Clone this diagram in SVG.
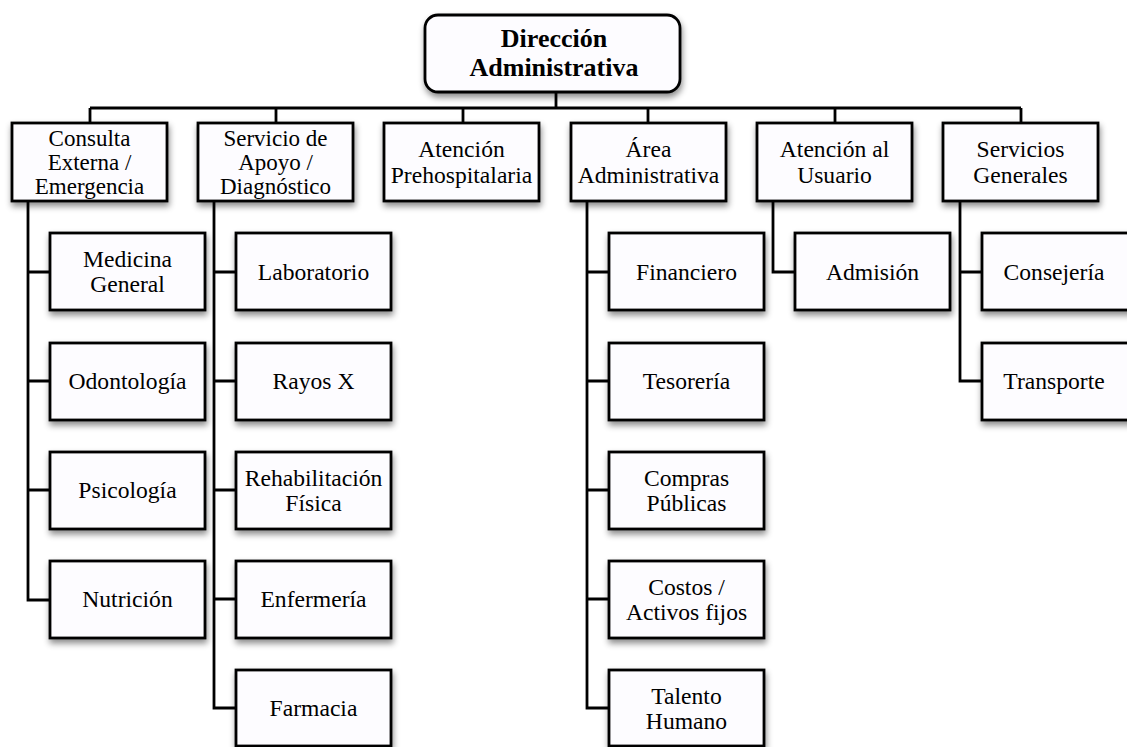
<svg xmlns="http://www.w3.org/2000/svg" width="1127" height="747" viewBox="0 0 1127 747">
<style>
.box{fill:#fdfcff;stroke:#000;stroke-width:2.8;filter:url(#sh)}
.t{font-family:"Liberation Serif","Times New Roman",serif;font-size:23.6px;fill:#000;text-anchor:middle}
.t3{font-family:"Liberation Serif","Times New Roman",serif;font-size:23px;fill:#000;text-anchor:middle}
.tb{font-family:"Liberation Serif","Times New Roman",serif;font-size:26px;font-weight:bold;fill:#000;text-anchor:middle}
.c{fill:none;stroke:#000;stroke-width:2.8}
</style>
<defs>
<filter id="sh" x="-20%" y="-20%" width="150%" height="160%">
<feDropShadow dx="1" dy="4" stdDeviation="3" flood-color="#000" flood-opacity="0.45"/>
</filter>
</defs>
<rect width="1127" height="747" fill="#fff"/>
<g id="connectors">
<path class="c" d="M556 92V108M90 108H1021M90 108V123M276 108V123M463 108V123M648 108V123M835 108V123M1021 108V123"/>
<path class="c" d="M28 201V600H50M28 272H50M28 381H50M28 490H50"/>
<path class="c" d="M214 201V708H236M214 272H236M214 381H236M214 490H236M214 599H236"/>
<path class="c" d="M587 201V708H609M587 272H609M587 381H609M587 490H609M587 599H609"/>
<path class="c" d="M773 201V272H795"/>
<path class="c" d="M960 201V381H982M960 272H982"/>
</g>
<g id="n_direccion"><rect class="box" x="425" y="15" width="255" height="77" rx="13"/><text class="tb" x="554" y="47">Dirección</text><text class="tb" x="554" y="76">Administrativa</text></g>
<g id="n_consulta"><rect class="box" x="12" y="123" width="155" height="78"/><text class="t3" x="89.5" y="146">Consulta</text><text class="t3" x="89.5" y="170">Externa /</text><text class="t3" x="89.5" y="194">Emergencia</text></g>
<g id="n_servicio"><rect class="box" x="198" y="123" width="155" height="78"/><text class="t3" x="275.5" y="146">Servicio de</text><text class="t3" x="275.5" y="170">Apoyo /</text><text class="t3" x="275.5" y="194">Diagnóstico</text></g>
<g id="n_prehosp"><rect class="box" x="384" y="123" width="155" height="78"/><text class="t" x="461.5" y="157">Atención</text><text class="t" x="461.5" y="183">Prehospitalaria</text></g>
<g id="n_area"><rect class="box" x="571" y="123" width="155" height="78"/><text class="t" x="648.5" y="157">Área</text><text class="t" x="648.5" y="183">Administrativa</text></g>
<g id="n_usuario"><rect class="box" x="757" y="123" width="155" height="78"/><text class="t" x="834.5" y="157">Atención al</text><text class="t" x="834.5" y="183">Usuario</text></g>
<g id="n_generales"><rect class="box" x="943" y="123" width="155" height="78"/><text class="t" x="1020.5" y="157">Servicios</text><text class="t" x="1020.5" y="183">Generales</text></g>
<g id="n_medicina"><rect class="box" x="50" y="233" width="155" height="77"/><text class="t" x="127.5" y="267">Medicina</text><text class="t" x="127.5" y="292">General</text></g>
<g id="n_odonto"><rect class="box" x="50" y="343" width="155" height="77"/><text class="t" x="127.5" y="389">Odontología</text></g>
<g id="n_psico"><rect class="box" x="50" y="452" width="155" height="77"/><text class="t" x="127.5" y="498">Psicología</text></g>
<g id="n_nutri"><rect class="box" x="50" y="561" width="155" height="77"/><text class="t" x="127.5" y="607">Nutrición</text></g>
<g id="n_lab"><rect class="box" x="236" y="233" width="155" height="77"/><text class="t" x="313.5" y="280">Laboratorio</text></g>
<g id="n_rayos"><rect class="box" x="236" y="343" width="155" height="77"/><text class="t" x="313.5" y="389">Rayos X</text></g>
<g id="n_rehab"><rect class="box" x="236" y="452" width="155" height="77"/><text class="t" x="313.5" y="486">Rehabilitación</text><text class="t" x="313.5" y="511">Física</text></g>
<g id="n_enfer"><rect class="box" x="236" y="561" width="155" height="77"/><text class="t" x="313.5" y="607">Enfermería</text></g>
<g id="n_farma"><rect class="box" x="236" y="670" width="155" height="76"/><text class="t" x="313.5" y="716">Farmacia</text></g>
<g id="n_finan"><rect class="box" x="609" y="233" width="155" height="77"/><text class="t" x="686.5" y="280">Financiero</text></g>
<g id="n_teso"><rect class="box" x="609" y="343" width="155" height="77"/><text class="t" x="686.5" y="389">Tesorería</text></g>
<g id="n_compras"><rect class="box" x="609" y="452" width="155" height="77"/><text class="t" x="686.5" y="486">Compras</text><text class="t" x="686.5" y="511">Públicas</text></g>
<g id="n_costos"><rect class="box" x="609" y="561" width="155" height="77"/><text class="t" x="686.5" y="595">Costos /</text><text class="t" x="686.5" y="620">Activos fijos</text></g>
<g id="n_talento"><rect class="box" x="609" y="670" width="155" height="76"/><text class="t" x="686.5" y="704">Talento</text><text class="t" x="686.5" y="729">Humano</text></g>
<g id="n_admision"><rect class="box" x="795" y="233" width="155" height="77"/><text class="t" x="872.5" y="280">Admisión</text></g>
<g id="n_conse"><rect class="box" x="982" y="233" width="155" height="77"/><text class="t" x="1054" y="280">Consejería</text></g>
<g id="n_trans"><rect class="box" x="982" y="343" width="155" height="77"/><text class="t" x="1054" y="389">Transporte</text></g>
</svg>
